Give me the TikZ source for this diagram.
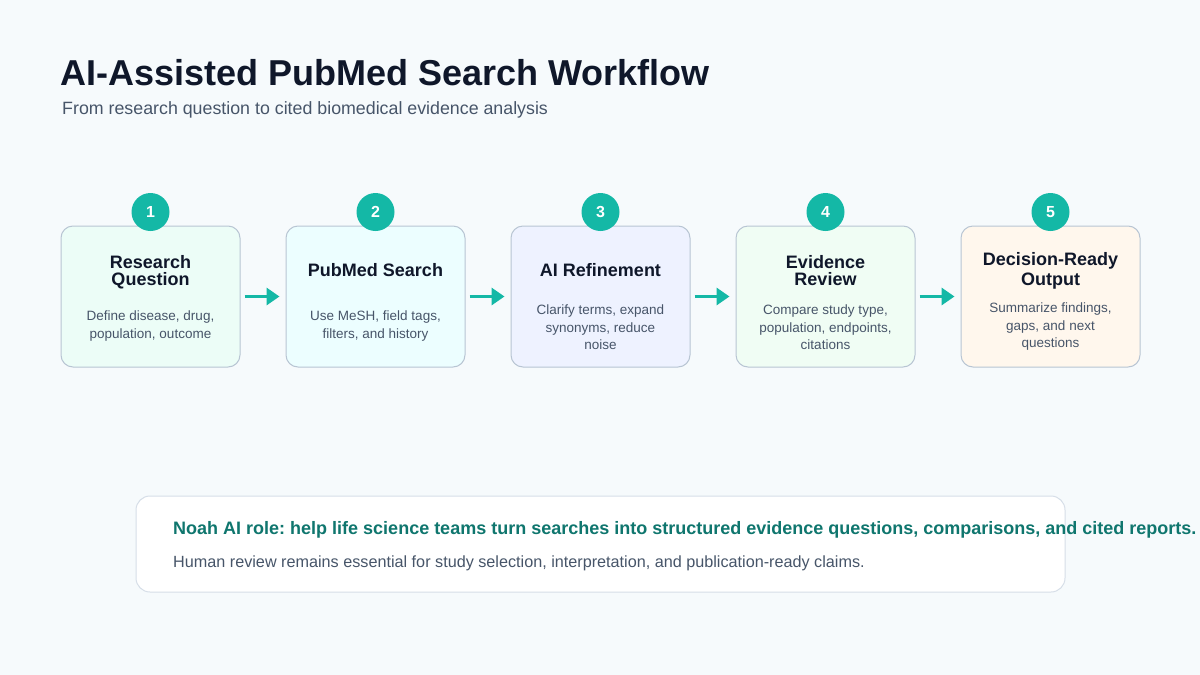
\documentclass[tikz,border=0pt]{standalone}
\usepackage{fontspec}
\setmainfont{Liberation Sans}
\frenchspacing
\usetikzlibrary{arrows.meta,positioning}
\definecolor{pageBg}    {RGB}{246,250,252}
\definecolor{inkDark}   {RGB}{15, 23, 42}
\definecolor{inkSlate}  {RGB}{71, 85, 105}
\definecolor{tealMain}  {RGB}{20, 184,166}
\definecolor{tealDark}  {RGB}{15, 118,110}
\definecolor{cardLine}  {RGB}{184,197,211}
\definecolor{panelLine} {RGB}{214,222,232}
\definecolor{fillMint}  {RGB}{236,253,247}
\definecolor{fillCyan}  {RGB}{236,254,255}
\definecolor{fillIndigo}{RGB}{238,242,255}
\definecolor{fillGreen} {RGB}{240,253,244}
\definecolor{fillOrange}{RGB}{255,247,237}

\begin{document}
\begin{tikzpicture}[x=1pt,y=-1pt,
    stepCard/.style={draw=cardLine,line width=1pt,rounded corners=12pt,
      minimum width=179pt,minimum height=141pt,inner sep=0pt},
    stepBadge/.style={circle,fill=tealMain,minimum size=38pt,inner sep=0pt,
      text=white,font=\bfseries\fontsize{16}{16}\selectfont},
    stepTitle/.style={anchor=north,inner sep=0pt,align=center,text=inkDark,
      font=\bfseries\fontsize{18}{17.5}\selectfont},
    stepText/.style={anchor=north,inner sep=0pt,align=center,text=inkSlate,
      font=\fontsize{13.5}{17.5}\selectfont},
    flowArrow/.style={-{Triangle[length=13pt,width=17pt]},tealMain,
      line width=3.5pt,shorten <=4pt,shorten >=6pt}]

    % ─── Fundo ────────────────────────────────────────────
    \useasboundingbox (0,0) rectangle (1200,675);
    \fill[pageBg] (0,0) rectangle (1200,675);

    % ─── Titulo ───────────────────────────────────────────
    \node[anchor=base west,inner sep=0pt,text=inkDark,
          font=\bfseries\fontsize{36}{36}\selectfont] (heading) at (60,85)
      {AI-Assisted PubMed Search Workflow};
    \node[anchor=base west,inner sep=0pt,text=inkSlate,
          font=\fontsize{17.8}{18}\selectfont] (subheading) at (62,114)
      {From research question to cited biomedical evidence analysis};

    % ─── Etapas ───────────────────────────────────────────
    \foreach \i/\cx/\fc/\ttl/\ty/\dsc/\dy in {
        1/150.5/fillMint/{Research\\Question}/255/{Define disease, drug,\\population, outcome}/311,
        2/375.5/fillCyan/{PubMed Search}/263/{Use MeSH, field tags,\\filters, and history}/311,
        3/600.5/fillIndigo/{AI Refinement}/263/{Clarify terms, expand\\synonyms, reduce\\noise}/305,
        4/825.5/fillGreen/{Evidence\\Review}/255/{Compare study type,\\population, endpoints,\\citations}/305,
        5/1050.5/fillOrange/{Decision-Ready\\[2.5pt]Output}/252/{Summarize findings,\\gaps, and next\\questions}/303}{
      \node[stepCard,fill=\fc] (box\i) at (\cx,296.5) {};
      \node[stepBadge] (num\i) at (\cx,212) {\i};
      \node[stepTitle] (title\i) at (\cx,\ty) {\ttl};
      \node[stepText] (desc\i) at (\cx,\dy) {\dsc};
    }

    % Setas entre etapas
    \foreach \i [evaluate=\i as \j using int(\i+1)] in {1,...,4}{
      \draw[flowArrow] (box\i) -- (box\j);
    }

    % ─── Painel inferior ──────────────────────────────────
    \node[draw=panelLine,line width=1pt,fill=white,rounded corners=14pt,
          minimum width=929pt,minimum height=96pt,inner sep=0pt] (panel) at (600.5,544) {};
    \node[anchor=base west,inner sep=0pt,text=tealDark,
          font=\bfseries\fontsize{18}{18}\selectfont] (roleLine) at (173,534)
      {Noah AI role: help life science teams turn searches into structured evidence questions, comparisons, and cited reports.};
    \node[anchor=base west,inner sep=0pt,text=inkSlate,
          font=\fontsize{16.2}{16}\selectfont] (reviewLine) at (173,567)
      {Human review remains essential for study selection, interpretation, and publication-ready claims.};

\end{tikzpicture}
\end{document}
